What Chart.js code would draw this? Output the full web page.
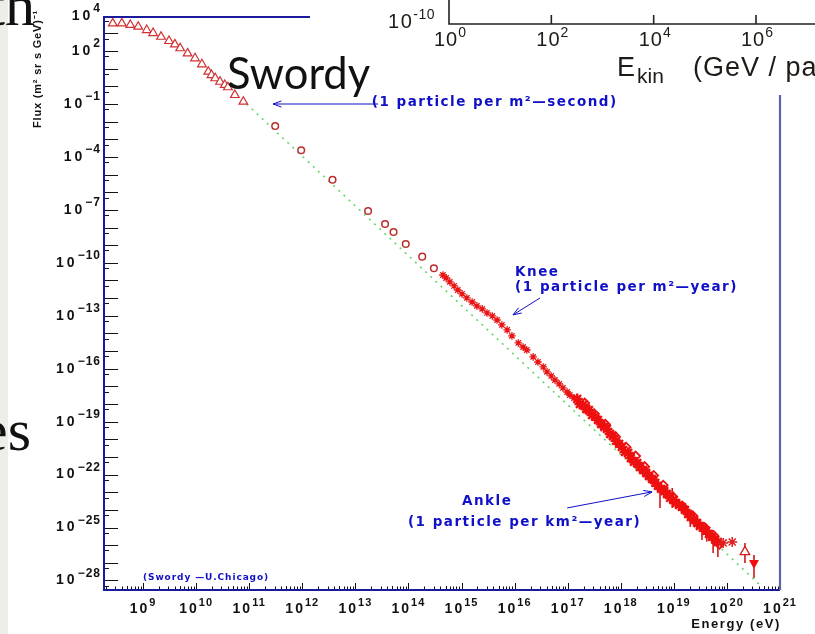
<!DOCTYPE html>
<html>
<head>
<meta charset="utf-8">
<script src="https://cdn.jsdelivr.net/npm/chart.js@4.4.1/dist/chart.umd.min.js"></script>
<style>
    html, body { margin: 0; padding: 0; }
    body { width: 815px; height: 634px; overflow: hidden; position: relative; background: #fff; }
    #strip { position: absolute; left: 0; top: 0; width: 8px; height: 634px; background: #efeee6; }
    .slide { position: absolute; font-family: "Liberation Serif", "Times New Roman", serif; font-size: 60px; line-height: 60px; color: #111; transform: translateX(-100%); white-space: nowrap; }
    #main { position: absolute; left: 0; top: 0; }
    #inset { position: absolute; left: 310px; top: 0; }
    #swordy { position: absolute; left: 227px; top: 51px; font-family: Lato, "Open Sans", sans-serif; font-size: 43.5px; line-height: 43px; color: #111; }
</style>
</head>
<body>
<div id="strip"></div>
<div class="slide" style="left:35px; top:-25px;">th</div>
<div class="slide" style="left:31px; top:400px;">es</div>
<canvas id="main" width="815" height="634"></canvas>
<canvas id="inset" width="505" height="95"></canvas>
<div id="swordy">Swordy</div>

<script>
// ======================
// DATA (log10 values)
// ======================

// x: log10(Energy / eV), y: log10(Flux)
const xTickExp = [9, 10, 11, 12, 13, 14, 15, 16, 17, 18, 19, 20, 21];
const yTickExp = [4, 2, -1, -4, -7, -10, -13, -16, -19, -22, -25, -28];

// open triangles (low energy, direct)
const triLogE = [8.43, 8.60, 8.76, 8.91, 9.07, 9.19, 9.34, 9.49, 9.60, 9.70, 9.84, 9.98, 10.11, 10.23, 10.29, 10.36, 10.45, 10.54, 10.60, 10.73, 10.89];
const triLogF = [3.57, 3.57, 3.48, 3.38, 3.19, 3.02, 2.81, 2.57, 2.38, 2.16, 1.87, 1.59, 1.25, 0.83, 0.64, 0.46, 0.26, 0.08, -0.05, -0.49, -0.87];

// open circles
const circLogE = [11.49, 11.98, 12.57, 13.24, 13.56, 13.72, 13.95, 14.26, 14.48];
const circLogF = [-2.25, -3.62, -5.29, -7.06, -7.80, -8.25, -8.93, -9.65, -10.31];

// stars around the knee
const kneeLogE = [14.65, 14.71, 14.78, 14.86, 14.93, 15.01, 15.10, 15.20, 15.29, 15.39, 15.48, 15.58, 15.67, 15.76, 15.86, 15.95, 16.07, 16.16, 16.23, 16.35, 16.44, 16.54, 16.61, 16.69, 16.76, 16.84, 16.91, 16.99, 17.04, 17.12, 17.20, 17.27, 17.36, 17.46, 17.55];
const kneeLogF = [-10.69, -10.86, -11.08, -11.31, -11.54, -11.76, -11.99, -12.22, -12.44, -12.61, -12.84, -13.01, -13.24, -13.52, -13.80, -14.14, -14.54, -14.77, -14.94, -15.33, -15.62, -15.90, -16.18, -16.41, -16.64, -16.86, -17.09, -17.32, -17.49, -17.66, -17.88, -18.11, -18.34, -18.56, -18.79];

// dense band up to the ankle
const bandLogE = [17.18, 17.23, 17.29, 17.35, 17.40, 17.46, 17.52, 17.57, 17.63, 17.69, 17.74, 17.80, 17.85, 17.91, 17.97, 18.02, 18.08, 18.14, 18.19, 18.25, 18.31, 18.36, 18.42, 18.48, 18.53, 18.59, 18.65, 18.70, 18.76, 18.82, 18.87, 18.93, 18.99, 19.04, 19.10, 19.15, 19.21, 19.27, 19.32, 19.38, 19.44, 19.49, 19.55, 19.61, 19.66, 19.72, 19.78, 19.83];
const bandLogF = [-17.71, -18.00, -18.05, -18.28, -18.34, -18.62, -18.73, -18.90, -19.13, -19.30, -19.41, -19.70, -19.81, -20.09, -20.26, -20.43, -20.72, -20.77, -21.06, -21.28, -21.34, -21.57, -21.74, -21.91, -22.08, -22.25, -22.47, -22.64, -22.81, -22.93, -23.10, -23.32, -23.44, -23.61, -23.72, -23.83, -24.00, -24.23, -24.40, -24.57, -24.74, -24.91, -25.02, -25.19, -25.36, -25.53, -25.70, -25.82];

// second set of markers inside the band (makes it thicker)
const band2LogE = [17.32, 17.50, 17.71, 17.90, 18.10, 18.28, 18.45, 18.62, 18.80, 18.98, 19.18, 19.36, 19.58, 19.75, 19.86];
const band2LogF = [-17.95, -18.55, -19.15, -19.85, -20.45, -20.95, -21.55, -22.05, -22.60, -23.25, -23.85, -24.35, -25.00, -25.45, -25.95];

// highest energies
const tailStarLogE = [19.93, 20.10];
const tailStarLogF = [-25.87, -25.82];
const openTriLogE = [20.34];
const openTriLogF = [-26.38];
const fullTriLogE = [20.51];
const fullTriLogF = [-27.01];

// error bars: energy, low, high
const errLogE = [18.30, 18.42, 18.60, 18.74, 18.85, 18.97, 19.10, 19.31, 19.53, 19.62, 19.74, 19.83, 20.34, 20.51];
const errLo = [-21.55, -21.95, -22.55, -23.89, -23.30, -23.89, -24.05, -24.97, -25.70, -25.80, -26.44, -26.67, -27.01, -27.86];
const errHi = [-21.00, -21.50, -21.95, -22.87, -22.65, -22.76, -23.40, -24.29, -24.97, -25.05, -25.31, -25.53, -25.87, -26.55];

// E^-2.8 reference line (end points)
const fitLogE = [10.95, 20.62];
const fitLogF = [-1.00, -28.25];

// inset (top right, other plot)
const insetTickExp = [0, 2, 4, 6];

// ======================
// HELPERS
// ======================
const BLUE = '#1a1a9a';
const TXT_BLUE = '#1010c8';
const DARK_RED = '#bb2e2e';
const RED = '#ee1010';

const pts = (ex, ey) => ex.map((e, i) => ({ x: 10 ** e, y: 10 ** ey[i] }));

function supText(ctx, base, exp, x, y, align, f1, f2, raise, sp1, sp2) {
    ctx.letterSpacing = sp1 + 'px';
    ctx.font = f1;
    const w1 = ctx.measureText(base).width;
    ctx.letterSpacing = sp2 + 'px';
    ctx.font = f2;
    const w2 = ctx.measureText(exp).width;
    const total = w1 + w2;
    let left = x;
    if (align === 'right') left = x - total;
    if (align === 'center') left = x - total / 2;
    ctx.textAlign = 'left';
    ctx.textBaseline = 'middle';
    ctx.letterSpacing = sp1 + 'px';
    ctx.font = f1;
    ctx.fillText(base, left, y);
    ctx.letterSpacing = sp2 + 'px';
    ctx.font = f2;
    ctx.fillText(exp, left + w1, y - raise);
    ctx.letterSpacing = '0px';
}

const expStr = e => String(e).replace('-', '\u2212');

function arrow(ctx, x1, y1, x2, y2) {
    ctx.beginPath();
    ctx.moveTo(x1, y1);
    ctx.lineTo(x2, y2);
    const a = Math.atan2(y2 - y1, x2 - x1);
    ctx.moveTo(x2 - 9 * Math.cos(a - 0.35), y2 - 9 * Math.sin(a - 0.35));
    ctx.lineTo(x2, y2);
    ctx.lineTo(x2 - 9 * Math.cos(a + 0.35), y2 - 9 * Math.sin(a + 0.35));
    ctx.stroke();
}

// ======================
// MAIN CHART PLUGINS
// ======================
const errorBars = {
    id: 'errorBars',
    beforeDatasetsDraw(chart) {
        const { ctx, scales: { x, y } } = chart;
        ctx.save();
        ctx.strokeStyle = '#d01818';
        ctx.lineWidth = 1.6;
        errLogE.forEach((e, i) => {
            const px = x.getPixelForValue(10 ** e);
            ctx.beginPath();
            ctx.moveTo(px, y.getPixelForValue(10 ** errLo[i]));
            ctx.lineTo(px, y.getPixelForValue(10 ** errHi[i]));
            ctx.stroke();
        });
        ctx.restore();
    }
};

const frame = {
    id: 'frame',
    afterDatasetsDraw(chart) {
        const { ctx, chartArea: a, scales: { x, y } } = chart;
        ctx.save();
        ctx.strokeStyle = '#111';
        ctx.lineWidth = 1;
        // x ticks (inside, pointing up)
        for (let d = 8; d <= 20; d++) {
            for (let m = 2; m <= 10; m++) {
                const v = m * 10 ** d;
                if (v < x.min || v > x.max * 1.001) continue;
                const px = Math.round(x.getPixelForValue(v)) + 0.5;
                const len = m === 10 ? 7 : (m === 5 ? 4 : 3.5);
                ctx.beginPath();
                ctx.moveTo(px, a.bottom);
                ctx.lineTo(px, a.bottom - len);
                ctx.stroke();
            }
        }
        // y ticks (inside, pointing right)
        for (let d = -28; d <= 4; d++) {
            [[10 ** d, 14], [5 * 10 ** (d - 1), 5]].forEach(([v, len]) => {
                if (v < y.min || v > y.max) return;
                const py = Math.round(y.getPixelForValue(v)) + 0.5;
                ctx.beginPath();
                ctx.moveTo(a.left, py);
                ctx.lineTo(a.left + len, py);
                ctx.stroke();
            });
        }
        // frame
        ctx.strokeStyle = BLUE;
        ctx.lineWidth = 2;
        ctx.beginPath();
        ctx.moveTo(a.right, a.top);
        ctx.lineTo(a.left, a.top);
        ctx.lineTo(a.left, a.bottom);
        ctx.lineTo(a.right, a.bottom);
        ctx.stroke();
        ctx.strokeStyle = '#5a64b4';
        ctx.lineWidth = 2.2;
        ctx.beginPath();
        ctx.moveTo(a.right, a.top);
        ctx.lineTo(a.right, a.bottom);
        ctx.stroke();
        ctx.restore();
    },
    afterDraw(chart) {
        const { ctx, chartArea: a, scales: { x, y } } = chart;
        ctx.save();
        ctx.fillStyle = '#111';
        // tick labels
        xTickExp.forEach(e => {
            const px = x.getPixelForValue(10 ** e);
            supText(ctx, '10', String(e), px, a.bottom + 19, 'center',
                'bold 14px "Liberation Sans"', 'bold 11px "Liberation Sans"', 6, 2, 1);
        });
        yTickExp.forEach(e => {
            const py = y.getPixelForValue(10 ** e);
            supText(ctx, '10', expStr(e), a.left - 3, py, 'right',
                'bold 14px "Liberation Sans"', 'bold 12px "Liberation Sans"', 7, 3, 1);
        });
        // axis titles
        ctx.font = 'bold 13px "Liberation Sans"';
        ctx.letterSpacing = '1.6px';
        ctx.textAlign = 'right';
        ctx.textBaseline = 'middle';
        ctx.fillText('Energy (eV)', a.right + 1, a.bottom + 34);
        ctx.save();
        ctx.translate(38, 69);
        ctx.rotate(-Math.PI / 2);
        ctx.textAlign = 'center';
        ctx.letterSpacing = '0.8px';
        ctx.font = 'bold 11px "Liberation Sans"';
        ctx.fillText('Flux (m\u00b2 sr s GeV)\u207b\u00b9', 0, 0);
        ctx.restore();

        // annotations (placed in data coordinates)
        const X = e => x.getPixelForValue(10 ** e);
        const Y = f => y.getPixelForValue(10 ** f);
        ctx.fillStyle = TXT_BLUE;
        ctx.strokeStyle = TXT_BLUE;
        ctx.lineWidth = 1;
        ctx.textAlign = 'left';
        ctx.textBaseline = 'middle';
        ctx.letterSpacing = '1.5px';
        ctx.font = 'bold 13.5px "DejaVu Sans"';
        ctx.fillText('(1 particle per m\u00b2\u2014second)', X(13.31), Y(-0.89));
        ctx.fillText('Knee', X(16.01), Y(-10.52));
        ctx.fillText('(1 particle per m\u00b2\u2014year)', X(16.01), Y(-11.37));
        ctx.fillText('Ankle', X(15.01), Y(-23.55));
        ctx.fillText('(1 particle per km\u00b2\u2014year)', X(13.99), Y(-24.74));
        ctx.letterSpacing = '0.9px';
        ctx.font = 'bold 9px "DejaVu Sans"';
        ctx.fillText('(Swordy \u2014U.Chicago)', X(9.0), Y(-27.86));
        ctx.letterSpacing = '0px';
        arrow(ctx, X(13.43), Y(-1.0), X(11.45), Y(-1.0));
        arrow(ctx, X(16.48), Y(-11.99), X(15.97), Y(-12.95));
        arrow(ctx, X(16.99), Y(-23.89), X(18.59), Y(-22.98));
        ctx.restore();
    }
};

new Chart(document.getElementById('main'), {
    type: 'scatter',
    data: {
        datasets: [
            { data: pts(fullTriLogE, fullTriLogF), pointStyle: 'triangle', rotation: 180, radius: 5, borderColor: RED, backgroundColor: RED, borderWidth: 1 },
            { data: pts(openTriLogE, openTriLogF), pointStyle: 'triangle', radius: 5.5, borderColor: '#d02020', backgroundColor: '#fff', borderWidth: 1.3 },
            { data: pts(tailStarLogE, tailStarLogF), pointStyle: 'star', radius: 5, borderColor: '#e02020', borderWidth: 1.5 },
            { data: pts(bandLogE, bandLogF), pointStyle: 'star', radius: 5.5, borderColor: RED, borderWidth: 2.4 },
            { data: pts(band2LogE, band2LogF), pointStyle: 'rectRot', radius: 4.5, borderColor: RED, backgroundColor: 'rgba(0,0,0,0)', borderWidth: 1.8 },
            { data: pts(kneeLogE, kneeLogF), pointStyle: 'star', radius: 3.8, borderColor: '#e81414', borderWidth: 1.3 },
            { data: pts(circLogE, circLogF), pointStyle: 'circle', radius: 3.3, borderColor: DARK_RED, backgroundColor: '#fff', borderWidth: 1.5 },
            { data: pts(triLogE, triLogF), pointStyle: 'triangle', radius: 5, borderColor: '#d03030', backgroundColor: '#fff', borderWidth: 1.2 },
            { data: pts(fitLogE, fitLogF), showLine: true, pointRadius: 0, borderColor: '#62d862', borderWidth: 1.6, borderDash: [2, 5] }
        ].map(d => Object.assign({ clip: false }, d))
    },
    options: {
        responsive: false,
        animation: false,
        events: [],
        layout: { padding: { left: 104, top: 17, right: 35, bottom: 44 } },
        scales: {
            x: { type: 'logarithmic', display: false, min: 10 ** 8.265, max: 1e21 },
            y: { type: 'logarithmic', display: false, min: 10 ** -28.54, max: 10 ** 3.93 }
        },
        plugins: { legend: { display: false }, tooltip: { enabled: false } }
    },
    plugins: [errorBars, frame]
});

// ======================
// INSET (piece of another plot, top right)
// ======================
const insetAxes = {
    id: 'insetAxes',
    beforeDraw(chart) {
        const { ctx, width, height } = chart;
        ctx.save();
        ctx.fillStyle = '#fff';
        ctx.fillRect(0, 0, width, height);
        ctx.restore();
    },
    afterDraw(chart) {
        const { ctx, chartArea: a, scales: { x } } = chart;
        ctx.save();
        ctx.strokeStyle = '#222';
        ctx.lineWidth = 1.6;
        ctx.beginPath();
        ctx.moveTo(a.left, 0);
        ctx.lineTo(a.left, a.bottom);
        ctx.lineTo(a.right, a.bottom);
        ctx.stroke();
        ctx.fillStyle = '#1e1a16';
        insetTickExp.forEach(e => {
            const px = x.getPixelForValue(10 ** e);
            if (e > 0) {
                ctx.beginPath();
                ctx.moveTo(px, a.bottom);
                ctx.lineTo(px, a.bottom - 9);
                ctx.stroke();
            }
            supText(ctx, '10', String(e), px + 1, a.bottom + 16, 'center',
                '20px "Liberation Sans"', '14px "Liberation Sans"', 7, 1, 0);
        });
        supText(ctx, '10', '-10', a.left - 14, a.bottom - 2, 'right',
            '20px "Liberation Sans"', '14px "Liberation Sans"', 7, 1.5, 0.5);
        ctx.textAlign = 'left';
        ctx.textBaseline = 'alphabetic';
        ctx.font = '27px "Liberation Sans"';
        ctx.fillText('E', a.left + 168, 76);
        ctx.font = '21px "Liberation Sans"';
        ctx.fillText('kin', a.left + 188, 83);
        ctx.font = '27px "Liberation Sans"';
        ctx.letterSpacing = '1px';
        ctx.fillText('(GeV / particle)', a.left + 244, 76);
        ctx.restore();
    }
};

new Chart(document.getElementById('inset'), {
    type: 'scatter',
    data: { datasets: [{ data: [] }] },
    options: {
        responsive: false,
        animation: false,
        events: [],
        layout: { padding: { left: 139, top: 0, right: 0, bottom: 71 } },
        scales: {
            x: { type: 'logarithmic', display: false, min: 1, max: 10 ** 7.153 },
            y: { type: 'logarithmic', display: false, min: 1e-10, max: 1e-8 }
        },
        plugins: { legend: { display: false }, tooltip: { enabled: false } }
    },
    plugins: [insetAxes]
});
</script>
</body>
</html>
